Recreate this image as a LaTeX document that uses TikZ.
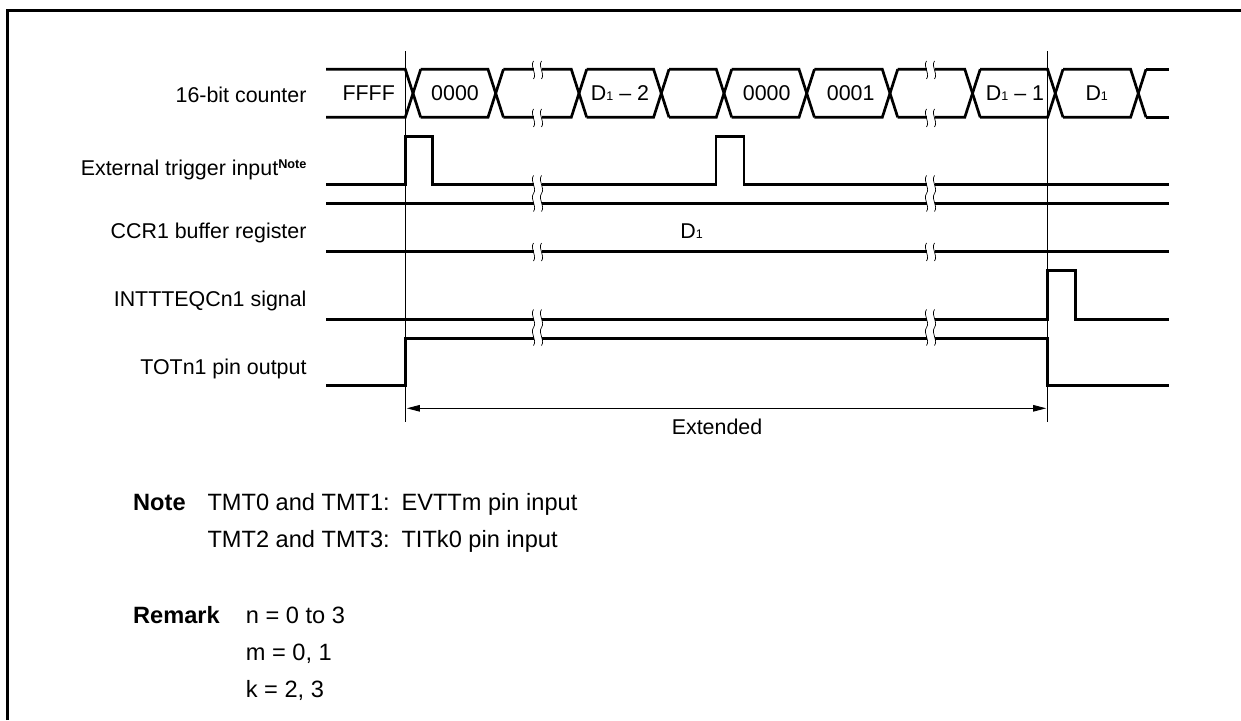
\documentclass[tikz,border=0pt]{standalone}
\usepackage{fontspec}
\setmainfont{Liberation Sans}
\usepackage{tikz}
\usetikzlibrary{arrows.meta}
\newcommand{\Dsub}{D{\fontsize{12.5}{12.5}\selectfont 1}}
% break mark on a line: x, top y, number of waves
\newcommand{\breakmark}[3]{%
  \fill[white] (#1-4,#2) rectangle (#1+4,#2+18*#3);
  \foreach \w in {1,...,#3} {
    \draw[wiggle] (#1-4,{#2+18*(\w-1)}) .. controls (#1-8,{#2+18*\w-12}) and (#1,{#2+18*\w-6}) .. (#1-4,{#2+18*\w});
    \draw[wiggle] (#1+4,{#2+18*(\w-1)}) .. controls (#1,{#2+18*\w-12}) and (#1+8,{#2+18*\w-6}) .. (#1+4,{#2+18*\w});
  }}

\begin{document}
\begin{tikzpicture}[
    x=1pt, y=-1pt,
    signal/.style={line width=2.7pt, line join=miter},
    wiggle/.style={line width=0.7pt},
    marker/.style={line width=1pt},
    frameline/.style={line width=3pt},
    span/.style={line width=0.9pt, {Triangle[length=13pt,width=6.5pt]}-{Triangle[length=13pt,width=6.5pt]}, shorten <=1.5pt, shorten >=1.5pt},
    txt/.style={font=\fontsize{21.4}{25}\selectfont, inner sep=0pt},
    sigl/.style={txt, anchor=base east},
    value/.style={txt, anchor=base},
    notel/.style={font=\fontsize{23.6}{27}\selectfont, inner sep=0pt, anchor=base west}
]
    \useasboundingbox (0,0) rectangle (1241,720);
    \draw[frameline] (7.5,720) -- (7.5,10.5) -- (1241,10.5);

    % time marks
    \coordinate (t0top) at (405.3,51);
    \coordinate (t0bot) at (405.3,421.7);
    \coordinate (t1top) at (1047.7,51);
    \coordinate (t1bot) at (1047.7,421.7);
    \coordinate (span0) at (405.3,408.3);
    \coordinate (span1) at (1047.7,408.3);
    \draw[marker] (t0top) -- (t0bot);
    \draw[marker] (t1top) -- (t1bot);
    \draw[span] (span0) -- (span1);

    % counter bus
    \foreach \c [remember=\c as \p (initially 318.3)] in {413,495.7,579,661.3,724,806.7,890,972.5,1055.3,1138.3} {
        \draw[signal] ({\p+7.7},69.3) -- ({\c-7.7},69.3) -- ({\c+7.7},117.3);
        \draw[signal] ({\p+7.7},117.3) -- ({\c-7.7},117.3) -- ({\c+7.7},69.3);
    }
    \draw[signal] (1146,69.3) -- (1169.3,69.3);
    \draw[signal] (1146,117.3) -- (1169.3,117.3);

    % level signals
    \draw[signal] (326,184.3) -- (405.3,184.3) -- (405.3,136.3) -- (432.3,136.3) -- (432.3,184.3)
        -- (716,184.3) -- (716,136.3) -- (744,136.3) -- (744,184.3) -- (1169.3,184.3);
    \draw[signal] (326,203.3) -- (1169.3,203.3);
    \draw[signal] (326,251.3) -- (1169.3,251.3);
    \draw[signal] (326,319.3) -- (1047.7,319.3) -- (1047.7,270.3) -- (1075.7,270.3) -- (1075.7,319.3) -- (1169.3,319.3);
    \draw[signal] (326,385.7) -- (405.3,385.7) -- (405.3,338.3) -- (1047.7,338.3) -- (1047.7,385.7) -- (1169.3,385.7);

    % breaks
    \foreach \x in {537.5,930.5} {
        \breakmark{\x}{61}{1}
        \breakmark{\x}{109}{1}
        \breakmark{\x}{175.5}{2}
        \breakmark{\x}{243}{1}
        \breakmark{\x}{309.5}{2}
    }

    % signal names
    \node[sigl] (counter) at (306.7,102.3) {16-bit counter};
    \node[sigl] (trigger) at (306.7,175.5) {External trigger input\raisebox{7pt}{\fontsize{12.7}{13}\selectfont\bfseries Note}};
    \node[sigl] (buffer) at (306.7,238.3) {CCR1 buffer register};
    \node[sigl] (inttt) at (306.7,306) {INTTTEQCn1 signal};
    \node[sigl] (totn) at (306.7,374) {TOTn1 pin output};

    % bus values
    \node[value] (vffff) at (368.7,100.8) {FFFF};
    \node[value] (vzero) at (455,100.8) {0000};
    \node[value] (vdtwo) at (620,100.8) {\Dsub{} -- 2};
    \node[value] (vzerob) at (766.7,100.8) {0000};
    \node[value] (vone) at (850.7,100.8) {0001};
    \node[value] (vdone) at (1015,100.8) {\Dsub{} -- 1};
    \node[value] (vd) at (1096.7,100.8) {\Dsub};
    \node[value] (vbuf) at (691.5,238.3) {\Dsub};
    \node[value] (vext) at (717,434) {Extended};

    % notes
    \node[notel] (note) at (133,510.7) {\bfseries Note};
    \node[notel] (noteb) at (207.3,510.7) {TMT0 and TMT1:\hspace{0.5em}EVTTm pin input};
    \node[notel] (notec) at (207.3,547.7) {TMT2 and TMT3:\hspace{0.5em}TITk0 pin input};
    \node[notel] (remark) at (133,623.3) {\bfseries Remark};
    \node[notel] (remn) at (245.7,623.3) {n = 0 to 3};
    \node[notel] (remm) at (245.7,660.3) {m = 0, 1};
    \node[notel] (remk) at (245.7,697.3) {k = 2, 3};
\end{tikzpicture}
\end{document}
